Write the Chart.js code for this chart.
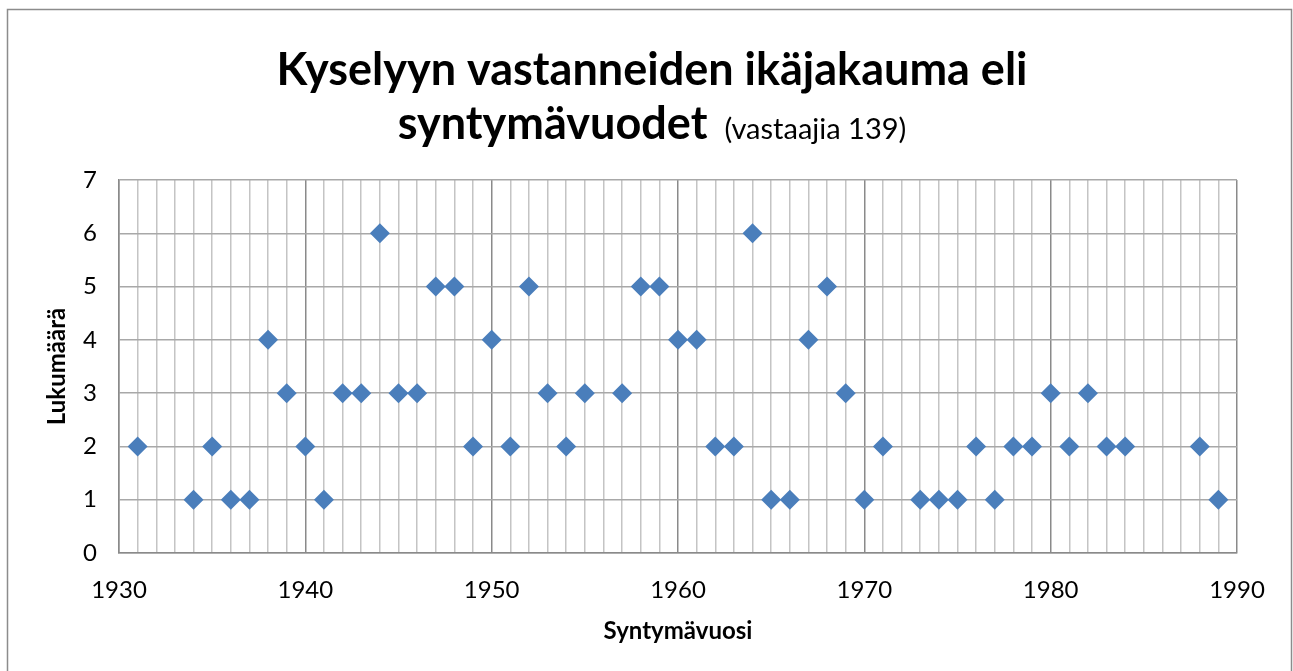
<!DOCTYPE html>
<html>
<head>
<meta charset="utf-8">
<script src="https://cdn.jsdelivr.net/npm/chart.js@4.4.1/dist/chart.umd.min.js"></script>
<style>
  html, body { margin: 0; padding: 0; background: #fff; }
  #wrap { width: 1293px; height: 671px; position: relative; }
</style>
</head>
<body>
<div id="wrap"><canvas id="c" width="1293" height="671"></canvas></div>
<script>
const titleLine1 = "Kyselyyn vastanneiden ikäjakauma eli";
const titleLine2Bold = "syntymävuodet";
const titleLine2Normal = "(vastaajia 139)";
const xAxisTitle = "Syntymävuosi";
const yAxisTitle = "Lukumäärä";

const years = [1931, 1934, 1935, 1936, 1937, 1938, 1939, 1940, 1941, 1942, 1943, 1944, 1945, 1946, 1947, 1948, 1949, 1950, 1951, 1952, 1953, 1954, 1955, 1957, 1958, 1959, 1960, 1961, 1962, 1963, 1964, 1965, 1966, 1967, 1968, 1969, 1970, 1971, 1973, 1974, 1975, 1976, 1977, 1978, 1979, 1980, 1981, 1982, 1983, 1984, 1988, 1989];
const counts = [2, 1, 2, 1, 1, 4, 3, 2, 1, 3, 3, 6, 3, 3, 5, 5, 2, 4, 2, 5, 3, 2, 3, 3, 5, 5, 4, 4, 2, 2, 6, 1, 1, 4, 5, 3, 1, 2, 1, 1, 1, 2, 1, 2, 2, 3, 2, 3, 2, 2, 2, 1];

const xMin = 1930, xMax = 1990, yMin = 0, yMax = 7;

const FONT = "Lato, 'Open Sans', sans-serif";

const points = years.map((y, i) => ({ x: y, y: counts[i] }));

const decorPlugin = {
  id: 'decor',
  beforeDraw(chart) {
    const ctx = chart.ctx;
    ctx.save();
    ctx.fillStyle = '#ffffff';
    ctx.fillRect(0, 0, chart.width, chart.height);
    ctx.strokeStyle = '#8c8c8c';
    ctx.lineWidth = 1.5;
    ctx.strokeRect(7.5, 9.5, 1284, 700);
    ctx.restore();
  },
  afterDraw(chart) {
    const ctx = chart.ctx;
    ctx.save();
    ctx.fillStyle = '#000';
    ctx.textBaseline = 'alphabetic';
    ctx.textAlign = 'left';
    const cx = 652;
    const gap = 17;
    ctx.font = "bold 45px " + FONT;
    const w1 = ctx.measureText(titleLine1).width;
    ctx.fillText(titleLine1, cx - w1 / 2, 85);
    const wb = ctx.measureText(titleLine2Bold).width;
    ctx.font = "29px " + FONT;
    const wn = ctx.measureText(titleLine2Normal).width;
    const start = cx - (wb + gap + wn) / 2;
    ctx.font = "bold 45px " + FONT;
    ctx.fillText(titleLine2Bold, start, 139);
    ctx.font = "29px " + FONT;
    ctx.fillText(titleLine2Normal, start + wb + gap, 139);
    ctx.restore();
  }
};

new Chart(document.getElementById('c'), {
  type: 'scatter',
  data: {
    datasets: [{
      data: points,
      pointStyle: 'rectRot',
      pointRadius: 10,
      pointHoverRadius: 10,
      backgroundColor: '#4a7ebb',
      borderColor: '#4a7ebb',
      borderWidth: 0
    }]
  },
  options: {
    responsive: false,
    animation: false,
    devicePixelRatio: 1,
    layout: { padding: { top: 180, left: 0, right: 56, bottom: 0 } },
    plugins: {
      legend: { display: false },
      tooltip: { enabled: false },
      title: { display: false }
    },
    scales: {
      x: {
        type: 'linear',
        min: xMin, max: xMax,
        afterFit(scale) { scale.height = 118; },
        grid: {
          drawTicks: false,
          lineWidth: 1.5,
          color: ctx => (ctx.tick && ctx.tick.value % 10 === 0) ? '#8a8a8a' : '#c4c4c4'
        },
        border: { display: true, color: '#8a8a8a', width: 1.5 },
        ticks: {
          stepSize: 1,
          autoSkip: false,
          maxRotation: 0,
          padding: 23,
          color: '#000',
          font: { family: FONT, size: 24 },
          callback: v => (v % 10 === 0 ? String(v) : '')
        },
        title: {
          display: true,
          text: xAxisTitle,
          color: '#000',
          font: { family: FONT, size: 24, weight: 'bold' },
          padding: { top: 0, bottom: 25 }
        }
      },
      y: {
        min: yMin, max: yMax,
        afterFit(scale) { scale.width = 119; },
        grid: {
          drawTicks: false,
          lineWidth: 1.5,
          color: '#a8a8a8'
        },
        border: { display: true, color: '#8a8a8a', width: 1.5 },
        ticks: {
          stepSize: 1,
          padding: 22,
          color: '#000',
          font: { family: FONT, size: 24 }
        },
        title: {
          display: true,
          text: yAxisTitle,
          color: '#000',
          font: { family: FONT, size: 24, weight: 'bold' },
          padding: { top: 43, bottom: 0 }
        }
      }
    }
  },
  plugins: [decorPlugin]
});
</script>
</body>
</html>
